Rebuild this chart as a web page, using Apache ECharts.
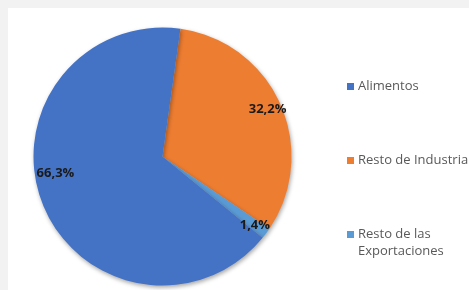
<!DOCTYPE html>
<html>
<head>
<meta charset="utf-8">
<script src="https://cdn.jsdelivr.net/npm/echarts@6/dist/echarts.min.js"></script>
<style>
html,body{margin:0;padding:0;background:#f2f2f2;}
#chart{position:absolute;left:8px;top:8px;width:461px;height:282px;background:#ffffff;}
</style>
</head>
<body>
<div id="chart"></div>
<script>
const categories = ['Resto de Industria', 'Resto de las Exportaciones', 'Alimentos'];
const values = [32.2, 1.4, 66.3];
const labels = ['32,2%', '1,4%', '66,3%'];
const colors = ['#ED7D31', '#5B9BD5', '#4472C4'];
const legendTop = ['Alimentos', 'Resto de Industria'];
const legendBottom = ['Resto de las Exportaciones'];

const chart = echarts.init(document.getElementById('chart'));
const data = categories.map((c, i) => ({ name: c, value: values[i], itemStyle: { color: colors[i] } }));
const labelData = categories.map((c, i) => ({ name: c, value: values[i] }));

const legendText = {
  fontFamily: 'Open Sans',
  fontSize: 13,
  lineHeight: 17,
  color: '#595959',
  padding: [0, 0, 0, -1]
};

chart.setOption({
  animation: false,
  legend: [
    {
      orient: 'vertical',
      left: 339,
      top: 70,
      padding: 0,
      itemWidth: 7,
      itemHeight: 7,
      itemGap: 57,
      icon: 'rect',
      selectedMode: false,
      data: legendTop,
      textStyle: legendText
    },
    {
      orient: 'vertical',
      left: 339,
      top: 218,
      padding: 0,
      itemWidth: 7,
      itemHeight: 24,
      icon: 'path://M0,0h7v7h-7zM0,24',
      selectedMode: false,
      data: legendBottom,
      formatter: n => 'Resto de las\nExportaciones',
      textStyle: legendText
    }
  ],
  series: [
    {
      type: 'pie',
      center: [154.5, 148.5],
      radius: [0, 129],
      startAngle: 82,
      clockwise: true,
      silent: true,
      label: { show: false },
      labelLine: { show: false },
      itemStyle: {
        shadowBlur: 4,
        shadowColor: 'rgba(0,0,0,0.35)',
        shadowOffsetX: 1,
        shadowOffsetY: 2
      },
      data: data
    },
    {
      type: 'pie',
      center: [154.5, 148.5],
      radius: [95, 129],
      startAngle: 82,
      clockwise: true,
      silent: true,
      itemStyle: { color: 'transparent' },
      label: {
        show: true,
        position: 'inside',
        formatter: p => labels[p.dataIndex],
        fontFamily: 'Open Sans',
        fontWeight: 'bold',
        fontSize: 13,
        color: '#1a1a1a'
      },
      labelLine: { show: false },
      labelLayout: p => p.dataIndex === 2 ? { dy: -25 } : {},
      data: labelData
    }
  ]
});
</script>
</body>
</html>
